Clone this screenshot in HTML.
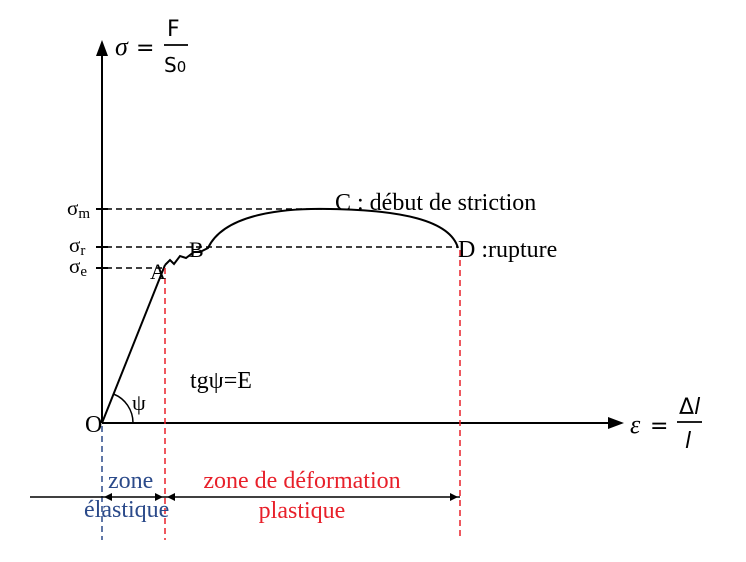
<!DOCTYPE html>
<html><head><style>body{margin:0;background:#fff}svg{display:block}</style></head><body>
<svg width="746" height="562" viewBox="0 0 746 562" xmlns="http://www.w3.org/2000/svg" font-family="Liberation Serif, serif">
<g stroke="#000" stroke-width="2" fill="none">
<line x1="102" y1="423" x2="102" y2="54"/>
<line x1="102" y1="423" x2="612" y2="423"/>
<line x1="102" y1="423" x2="165" y2="265"/>
<path d="M165,265 L170,260 L174,264 L180,256 L186,258 L194,252 L200,252 L208,248 C225,212 290,208 330,209 C400,210 450,220 458,248"/>
<path d="M113.5,394 A31,31 0 0 1 133,423" stroke-width="1.5"/>
</g>
<polygon points="102,40 96,56 108,56" fill="#000"/>
<polygon points="624,423 608,417 608,429" fill="#000"/>
<g stroke="#000" stroke-width="1.5" stroke-dasharray="6,4" fill="none">
<line x1="96" y1="209" x2="335" y2="209"/>
<line x1="96" y1="247" x2="458" y2="247"/>
<line x1="96" y1="268" x2="162" y2="268"/>
</g>
<g stroke="#000" stroke-width="2"><line x1="96" y1="209" x2="108" y2="209"/><line x1="96" y1="247" x2="108" y2="247"/><line x1="96" y1="268" x2="108" y2="268"/></g>
<g stroke="#e8202a" stroke-width="1.5" stroke-dasharray="6,4"><line x1="165" y1="268" x2="165" y2="540"/><line x1="460" y1="250" x2="460" y2="540"/></g>
<line x1="102" y1="426" x2="102" y2="540" stroke="#2b4a8a" stroke-width="1.5" stroke-dasharray="6,4"/>
<line x1="30" y1="497" x2="460" y2="497" stroke="#000" stroke-width="1.5"/>
<g fill="#000"><polygon points="104,497 112,493 112,501"/><polygon points="163,497 155,493 155,501"/><polygon points="167,497 175,493 175,501"/><polygon points="458,497 450,493 450,501"/></g>
<g font-size="24" fill="#000">
<text x="67" y="215" font-size="21">σ<tspan font-size="15" dy="3">m</tspan></text>
<text x="69" y="252" font-size="21">σ<tspan font-size="15" dy="3">r</tspan></text>
<text x="69" y="273" font-size="21">σ<tspan font-size="15" dy="3">e</tspan></text>
<text x="150" y="279" font-size="22">A</text>
<text x="189" y="257" font-size="22">B</text>
<text x="335" y="210">C : début de striction</text>
<text x="458" y="257">D :rupture</text>
<text x="190" y="388">tgψ=E</text>
<text x="132" y="410" font-size="22">ψ</text>
<text x="85" y="432">O</text>
<text x="108" y="488" fill="#2b4a8a">zone</text>
<text x="84" y="517" fill="#2b4a8a">élastique</text>
<text x="302" y="488" fill="#e8202a" text-anchor="middle">zone de déformation</text>
<text x="302" y="518" fill="#e8202a" text-anchor="middle">plastique</text>
</g>
<g font-family="DejaVu Sans, sans-serif" font-size="22" fill="#000">
<text x="115" y="55" font-style="italic" font-family="Liberation Serif, serif" font-size="26">σ</text>
<text x="136" y="55">=</text>
<text x="167" y="36">F</text>
<line x1="164" y1="45" x2="188" y2="45" stroke="#000" stroke-width="1.8"/>
<text x="164" y="72" font-size="20">S<tspan font-size="15">0</tspan></text>
<text x="630" y="433" font-style="italic" font-family="Liberation Serif, serif" font-size="26">ε</text>
<text x="650" y="433">=</text>
<text x="679" y="414">Δ<tspan font-style="italic">l</tspan></text>
<line x1="677" y1="422" x2="702" y2="422" stroke="#000" stroke-width="1.8"/>
<text x="685" y="448" font-style="italic">l</text>
</g>
</svg>
</body></html>
